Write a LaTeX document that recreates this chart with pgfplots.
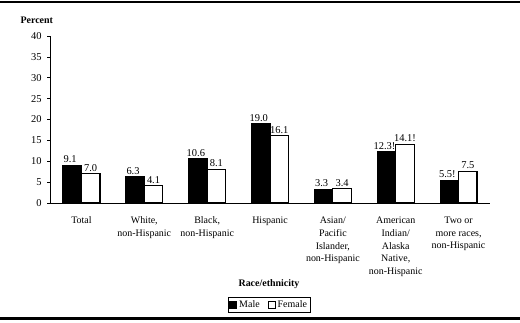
\documentclass[border=0pt]{standalone}
\usepackage{fontspec}
\setmainfont{Liberation Serif}
\usepackage{pgfplots}
\pgfplotsset{compat=1.18}
\begin{document}
\begin{tikzpicture}[x=1bp,y=1bp]
\useasboundingbox (0,0) rectangle (520,322);
\draw[line width=2.6bp] (0,320) -- (520,320);
\draw[line width=2.6bp] (0,3.5) -- (520,3.5);
\begin{axis}[
    at={(50bp,119bp)}, anchor=south west,
    scale only axis,
    width=440bp, height=167bp,
    ybar=0pt,
    bar width=18.5bp,
    xmin=-0.5, xmax=6.5,
    ymin=0, ymax=40,
    ytick={0,5,...,40},
    xtick={0,...,6},
    xticklabels={{Total},{White,\\non-Hispanic},{Black,\\non-Hispanic},{Hispanic},{Asian/\\Pacific\\Islander,\\non-Hispanic},{American\\Indian/\\Alaska\\Native,\\non-Hispanic},{Two or\\more races,\\non-Hispanic}},
    xticklabel style={align=center, font=\fontsize{10}{13}\selectfont, yshift=-7bp},
    yticklabel style={font=\fontsize{10.5}{12}\selectfont, xshift=-2bp},
    /pgf/number format/assume math mode=true,
    axis lines*=left,
    axis line style={black, line width=0.8bp},
    tick style={black, line width=0.6bp},
    major tick length=3bp,
    xtick style={draw=none},
    tick align=outside,
    nodes near coords,
    point meta=explicit symbolic,
    every node near coord/.append style={font=\fontsize{10.5}{12}\selectfont, black, inner sep=2bp},
    legend style={at={(0.498,-0.61)}, anchor=center, legend columns=2, draw=black,
        font=\fontsize{10}{12}\selectfont, inner sep=1.5bp,
        /tikz/every even column/.append style={column sep=6bp}},
    legend image code/.code={\draw[#1, line width=1bp] (0bp,-3.5bp) rectangle (7bp,3.5bp);},
]
\addplot[fill=black, draw=black, line width=1bp,
    every node near coord/.append style={xshift=-2bp}] coordinates {
    (0,9.1) [9.1]
    (1,6.3) [6.3]
    (2,10.6) [10.6]
    (3,19.0) [19.0]
    (4,3.3) [3.3]
    (5,12.3) [12.3!]
    (6,5.5) [5.5!]
};
\addplot[fill=white, draw=black, line width=1.2bp] coordinates {
    (0,7.0) [7.0]
    (1,4.1) [4.1]
    (2,8.1) [8.1]
    (3,16.1) [16.1]
    (4,3.4) [3.4]
    (5,14.1) [14.1!]
    (6,7.5) [7.5]
};
\legend{Male,Female}
\end{axis}
\node[anchor=base west, font=\bfseries\fontsize{10}{12}\selectfont] at (17,299) {Percent};
\node[anchor=base, font=\bfseries\fontsize{10}{12}\selectfont] at (269,36) {Race/ethnicity};
\end{tikzpicture}
\end{document}
